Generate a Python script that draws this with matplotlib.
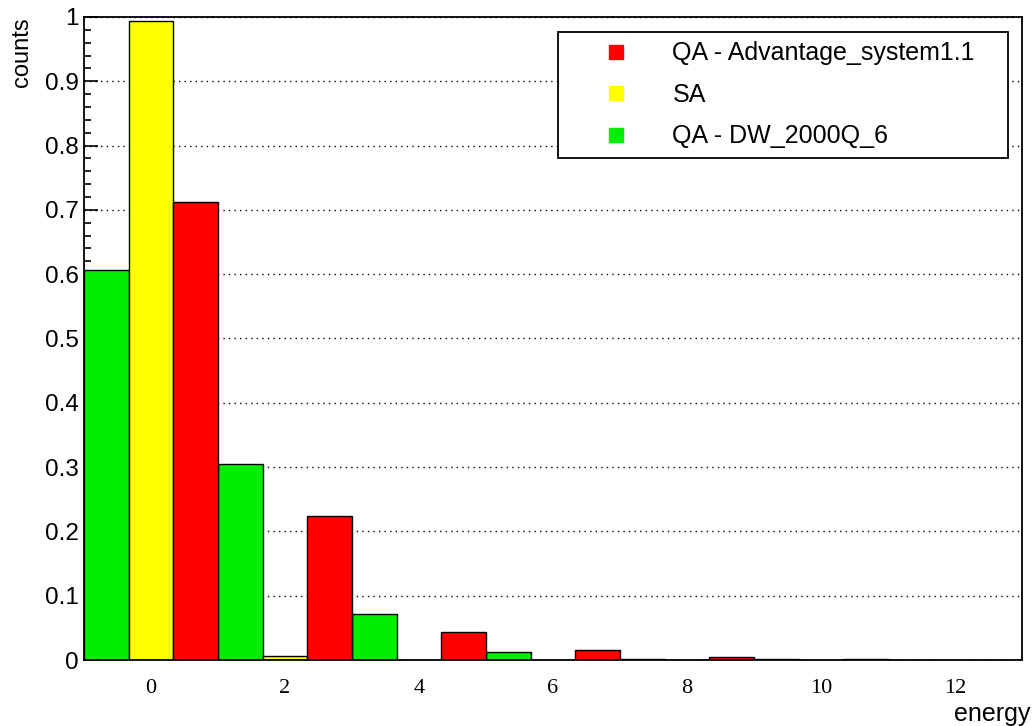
import numpy as np
import matplotlib.pyplot as plt
from matplotlib.lines import Line2D
from matplotlib.ticker import MultipleLocator

# Energy bins (bin width 2) and normalised counts per solver
energy = [0, 2, 4, 6, 8, 10, 12]
qa_dw2000q = [0.607, 0.305, 0.072, 0.012, 0.002, 0.001, 0.0]
sa = [0.994, 0.006, 0.0, 0.0, 0.0, 0.0, 0.0]
qa_advantage = [0.713, 0.224, 0.044, 0.016, 0.004, 0.002, 0.0]

labels = ['QA - Advantage_system1.1', 'SA', 'QA - DW_2000Q_6']
colors = ['#ff0000', '#ffff00', '#00ee00']

fig = plt.figure(figsize=(10.32, 7.26), dpi=100)
ax = fig.add_axes([0.0814, 0.0909, 0.9089, 0.8857])

x = np.array(energy, dtype=float)
w = 2 / 3
ax.bar(x - w, qa_dw2000q, width=w, color=colors[2], edgecolor='black', linewidth=1.0, zorder=3)
ax.bar(x, sa, width=w, color=colors[1], edgecolor='black', linewidth=1.0, zorder=3)
ax.bar(x + w, qa_advantage, width=w, color=colors[0], edgecolor='black', linewidth=1.0, zorder=3)

ax.set_xlim(-1, 13)
ax.set_ylim(0, 1.0)

ax.set_xticks(energy)
ax.set_xticklabels([str(e) for e in energy], family='Liberation Serif', fontsize=16)
ax.tick_params(axis='x', length=0, pad=14)

ax.yaxis.set_major_locator(MultipleLocator(0.1))
ax.yaxis.set_minor_locator(MultipleLocator(0.02))
ax.set_yticks(np.arange(0, 1.01, 0.1))
ax.set_yticklabels(['0', '0.1', '0.2', '0.3', '0.4', '0.5', '0.6', '0.7', '0.8', '0.9', '1'])
ax.tick_params(axis='y', which='major', direction='in', length=10, width=1.2, labelsize=17.5, pad=4)
ax.tick_params(axis='y', which='minor', direction='in', length=5, width=1.2)
for t in ax.get_yticklabels():
    t.set_family('Liberation Sans')

ax.yaxis.grid(True, which='major', linestyle=(0, (1, 3)), color='black', linewidth=1.0, zorder=0)
for s in ax.spines.values():
    s.set_linewidth(1.3)
    s.set_zorder(4)

fig.text(0.011, 0.976, 'counts', rotation=90, ha='left', va='top',
         family='Liberation Sans', fontsize=17)
fig.text(0.998, 0.0, 'energy', ha='right', va='bottom',
         family='Liberation Sans', fontsize=18)

handles = [Line2D([], [], marker='s', linestyle='none', markersize=10,
                  markerfacecolor=c, markeredgecolor=c) for c in colors]
leg = ax.legend(handles, labels, loc='upper left',
                bbox_to_anchor=(0.5053, 0.7885, 0.4797, 0.1882), mode='expand',
                prop={'family': 'Liberation Sans', 'size': 18},
                frameon=True, fancybox=False, borderpad=0.38, labelspacing=0.7,
                handletextpad=0.3, borderaxespad=0, handlelength=3.9)
leg.get_frame().set_edgecolor('black')
leg.get_frame().set_linewidth(1.3)
leg.get_frame().set_alpha(1)
leg.set_zorder(5)

fig.savefig('out.png', dpi=100)
